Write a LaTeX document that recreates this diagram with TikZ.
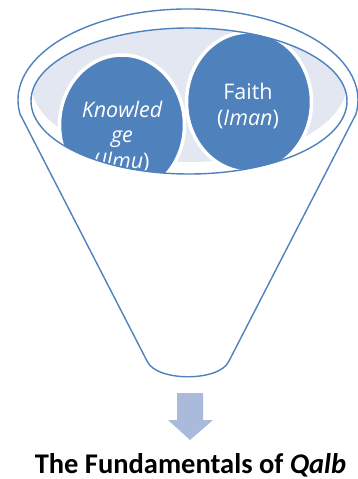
\documentclass[tikz,border=0pt]{standalone}
\usepackage{fontspec}
\setmainfont{Carlito}
\newfontfamily\bubblefont{Open Sans}
\usetikzlibrary{shapes.geometric}
\definecolor{funnelblue}{RGB}{79,129,189}
\definecolor{rimtint}{RGB}{226,231,242}
\definecolor{arrowtint}{RGB}{170,186,218}
\tikzset{
    funnel line/.style={line width=1.4pt, draw=funnelblue},
    bubble/.style={
        ellipse,
        fill=funnelblue,
        draw=white,
        line width=3.5pt,
        minimum width=125pt,
        minimum height=140pt,
        inner sep=0pt
    },
    bubble text/.style={
        text=white,
        align=center,
        inner sep=0pt,
        font=\bubblefont\fontsize{21.5}{25.5}\selectfont
    },
    title text/.style={
        inner sep=0pt,
        font=\bfseries\fontsize{28.5}{32}\selectfont
    },
    down arrow/.style={fill=arrowtint}
}

\begin{document}
\begin{tikzpicture}[x=1pt,y=-1pt]
    \useasboundingbox(0,0)rectangle(357,479);
    \coordinate(rim)at(188,100);
    \coordinate(bowl)at(189,101);
    \draw[funnel line,fill=white]
        (20.1,114.2)arc[start angle=171,end angle=369,x radius=170,y radius=91]
        --(229,361)..controls(220,382)and(156,382)..(147,361)--cycle;
    \fill[white](bowl)ellipse[x radius=158,y radius=73];
    \begin{scope}
        \clip(bowl)ellipse[x radius=158,y radius=73];
        \fill[rimtint](189,83)ellipse[x radius=158,y radius=79];
        \node[bubble](ilmu)at(122,125){};
        \node[bubble](iman)at(249,102){};
        \node[bubble text,anchor=base](ilmutext)at(122,168)
            {\itshape Knowled\\\itshape ge\\(\textit{Ilmu})};
        \node[bubble text,anchor=base](imantext)at(248,125)
            {Faith\\(\textit{Iman})};
    \end{scope}
    \draw[funnel line](bowl)ellipse[x radius=158,y radius=73];
    \fill[down arrow](177,393)--(203,393)--(203,420)--(213,420)
        --(190,440)--(168,420)--(177,420)--cycle;
    \node[title text,anchor=base](title)at(190.5,473)
        {The Fundamentals of \textit{Qalb}};
\end{tikzpicture}
\end{document}
